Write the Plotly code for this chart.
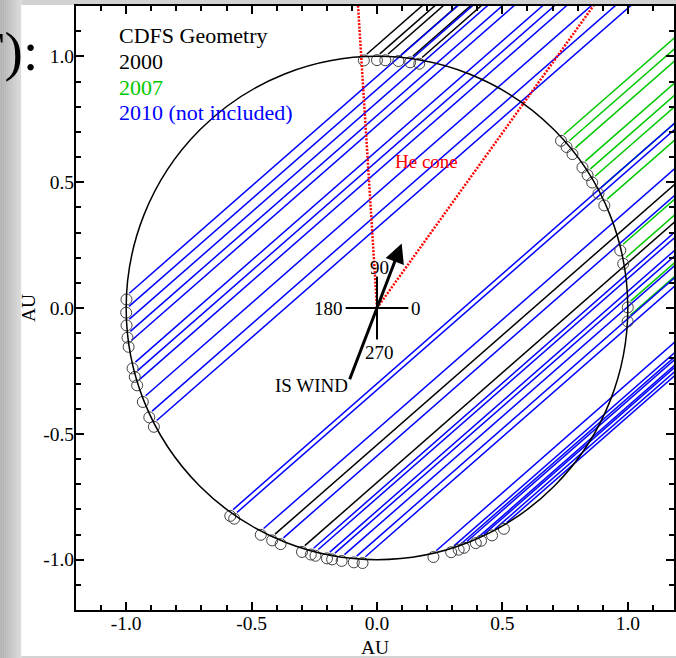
import numpy as np
import plotly.graph_objects as go

# ---------------- data ----------------
los_direction_deg = 41.1          # CDFS ecliptic longitude (line-of-sight direction)
angles_2000 = [93.0, 90.0, 88.1, 85.1, 82.4, 80.3, 245.3, 252.6]
angles_2007 = [42.8, 40.9, 38.8, 35.0, 32.9, 30.9, 28.0, 25.0, 14.1, 11.0, 1.0, 357.8]
angles_2010 = [177.2, 180.2, 183.1, 185.9, 188.0, 193.0, 195.0, 197.0, 201.0, 204.8, 207.2,
               234.2, 235.3, 242.4, 247.4, 254.7, 255.8, 258.5, 259.7, 261.9, 264.7, 266.7,
               283.0, 287.2, 289.0, 290.3, 293.2, 294.5, 297.3, 300.4]
he_cone_deg = [93.6, 54.3]
is_wind_deg = 69.0
is_wind_head = 0.275
is_wind_tail = 0.31
compass_deg = [0, 90, 180, 270]
compass_labels = ["0", "90", "180", "270"]
legend_labels = ["CDFS Geometry", "2000", "2007", "2010 (not included)"]
legend_colors = ["black", "black", "#00c800", "#0000ff"]
tick_vals = [-1.0, -0.5, 0.0, 0.5, 1.0]
tick_text = ["-1.0", "-0.5", "0.0", "0.5", "1.0"]

# ---------------- styling / layout constants ----------------
W, H = 676, 658
ML, MR, MT, MB = 76, 0, 6, 48
PW, PH = W - ML - MR, H - MT - MB
PX_PER_AU = PH / 2.4
XMAX = -1.2 + PW / PX_PER_AU
FONT = "Liberation Serif"
COL = {"2000": "black", "2007": "#00c800", "2010": "#0000ff"}
MARK_DY = -0.015
LINE_GAP = 0.015
RAY_LEN = 4.0


def px_to_paper(px, py):
    return (px - ML) / PW, (H - MB - py) / PH


def sightlines(angles):
    d = np.radians(los_direction_deg)
    xs, ys = [], []
    for a in angles:
        t = np.radians(a)
        x0, y0 = np.cos(t), np.sin(t)
        xs += [x0 + LINE_GAP * np.cos(d), x0 + RAY_LEN * np.cos(d), None]
        ys += [y0 + LINE_GAP * np.sin(d), y0 + RAY_LEN * np.sin(d), None]
    return xs, ys


fig = go.Figure()

# sight lines
for year, angs in [("2000", angles_2000), ("2007", angles_2007), ("2010", angles_2010)]:
    xs, ys = sightlines(angs)
    fig.add_trace(go.Scatter(x=xs, y=ys, mode="lines",
                             line=dict(color=COL[year], width=1.5),
                             hoverinfo="skip", name=year))

# observer positions
all_angles = np.radians(np.array(angles_2000 + angles_2007 + angles_2010))
fig.add_trace(go.Scatter(x=np.cos(all_angles), y=np.sin(all_angles) + MARK_DY,
                         mode="markers",
                         marker=dict(symbol="circle-open", size=11,
                                     color="#404040", line=dict(width=1)),
                         hoverinfo="skip", name="positions"))

# He cone
hx, hy = [], []
for a in he_cone_deg:
    t = np.radians(a)
    hx += [0, RAY_LEN * np.cos(t), None]
    hy += [0, RAY_LEN * np.sin(t), None]
fig.add_trace(go.Scatter(x=hx, y=hy, mode="lines",
                         line=dict(color="red", width=2.5, dash="2px,1.5px"),
                         hoverinfo="skip", name="He cone"))

shapes = []
# background: gray page with white slide area
shapes.append(dict(type="rect", xref="paper", yref="paper", layer="below",
                   x0=px_to_paper(0, 0)[0], x1=px_to_paper(W + 5, 0)[0],
                   y0=px_to_paper(0, H + 5)[1], y1=px_to_paper(0, -5)[1],
                   fillcolor="#d2d2d2", line=dict(width=0)))
n_grad = 11
for i in range(n_grad):
    g = int(178 + (222 - 178) * i / (n_grad - 1))
    shapes.append(dict(type="rect", xref="paper", yref="paper", layer="below",
                       x0=px_to_paper(i * 2, 0)[0], x1=px_to_paper(i * 2 + 2, 0)[0],
                       y0=px_to_paper(0, H + 5)[1], y1=px_to_paper(0, -5)[1],
                       fillcolor=f"rgb({g},{g},{g})", line=dict(width=0)))
wx0, wy0 = px_to_paper(21, 656)
wx1, wy1 = px_to_paper(W + 5, 5)
shapes.append(dict(type="rect", xref="paper", yref="paper", layer="below",
                   x0=wx0, x1=wx1, y0=wy0, y1=wy1,
                   fillcolor="white", line=dict(width=0)))

# 1 AU circle
shapes.append(dict(type="circle", xref="x", yref="y", x0=-1, x1=1, y0=-1, y1=1,
                   line=dict(color="black", width=1.5)))

# compass
CL = 0.125
for a in compass_deg:
    t = np.radians(a)
    shapes.append(dict(type="line", xref="x", yref="y", x0=0, y0=0,
                       x1=CL * np.cos(t), y1=CL * np.sin(t),
                       line=dict(color="black", width=2)))

annotations = []
# compass labels
lab_pos = {"0": (0.156, 0.0), "90": (0.01, 0.16), "180": (-0.192, 0.0), "270": (0.01, -0.176)}
for lab in compass_labels:
    x, y = lab_pos[lab]
    annotations.append(dict(x=x, y=y, xref="x", yref="y", text=lab, showarrow=False,
                            xanchor="center", yanchor="middle",
                            font=dict(family=FONT, size=19, color="black")))

# IS wind arrow
tw = np.radians(is_wind_deg)
annotations.append(dict(x=is_wind_head * np.cos(tw), y=is_wind_head * np.sin(tw),
                        ax=-is_wind_tail * np.cos(tw), ay=-is_wind_tail * np.sin(tw),
                        xref="x", yref="y", axref="x", ayref="y", text="",
                        showarrow=True, arrowhead=2, arrowsize=1.3, arrowwidth=3,
                        arrowcolor="black", standoff=0, startstandoff=0))
annotations.append(dict(x=-0.108, y=-0.307, xref="x", yref="y", text="IS WIND",
                        showarrow=False, xanchor="right", yanchor="middle",
                        font=dict(family=FONT, size=19, color="black")))

# He cone label
annotations.append(dict(x=0.199, y=0.582, xref="x", yref="y", text="He cone",
                        showarrow=False, xanchor="center", yanchor="middle",
                        font=dict(family=FONT, size=19, color="red")))

# legend text block
for i, (lab, c) in enumerate(zip(legend_labels, legend_colors)):
    annotations.append(dict(x=-1.038, y=1.082 - 0.102 * i, xref="x", yref="y", text=lab,
                            showarrow=False, xanchor="left", yanchor="middle",
                            font=dict(family=FONT, size=22, color=c)))

# partial slide text at top-left (cut by the page edge, as in the source slide)
fx, fy = px_to_paper(40, 52)
annotations.append(dict(x=fx, y=fy, xref="paper", yref="paper", text="F):",
                        showarrow=False, xanchor="right", yanchor="middle",
                        font=dict(family=FONT, size=55, color="black")))

axis_common = dict(showgrid=False, zeroline=False, showline=True, linecolor="black",
                   linewidth=2, mirror="ticks", ticks="inside", ticklen=8, tickwidth=2,
                   tickcolor="black", tickmode="array", tickvals=tick_vals, ticktext=tick_text,
                   tickfont=dict(family=FONT, size=19.5, color="black"),
                   minor=dict(dtick=0.1, tick0=0, ticks="inside", ticklen=5, tickwidth=2,
                              tickcolor="black", showgrid=False))

fig.update_layout(
    width=W, height=H,
    margin=dict(l=ML, r=MR, t=MT, b=MB, pad=0),
    paper_bgcolor="#d2d2d2", plot_bgcolor="white",
    showlegend=False,
    shapes=shapes, annotations=annotations,
    xaxis=dict(range=[-1.2, XMAX], ticklabelstandoff=-5,
               title=dict(text="AU", standoff=8,
                          font=dict(family=FONT, size=19.5, color="black")), **axis_common),
    yaxis=dict(range=[-1.2, 1.2], ticklabelstandoff=-4,
               title=dict(text="AU", standoff=2,
                          font=dict(family=FONT, size=19.5, color="black")), **axis_common),
)

fig.write_html("out.html")
